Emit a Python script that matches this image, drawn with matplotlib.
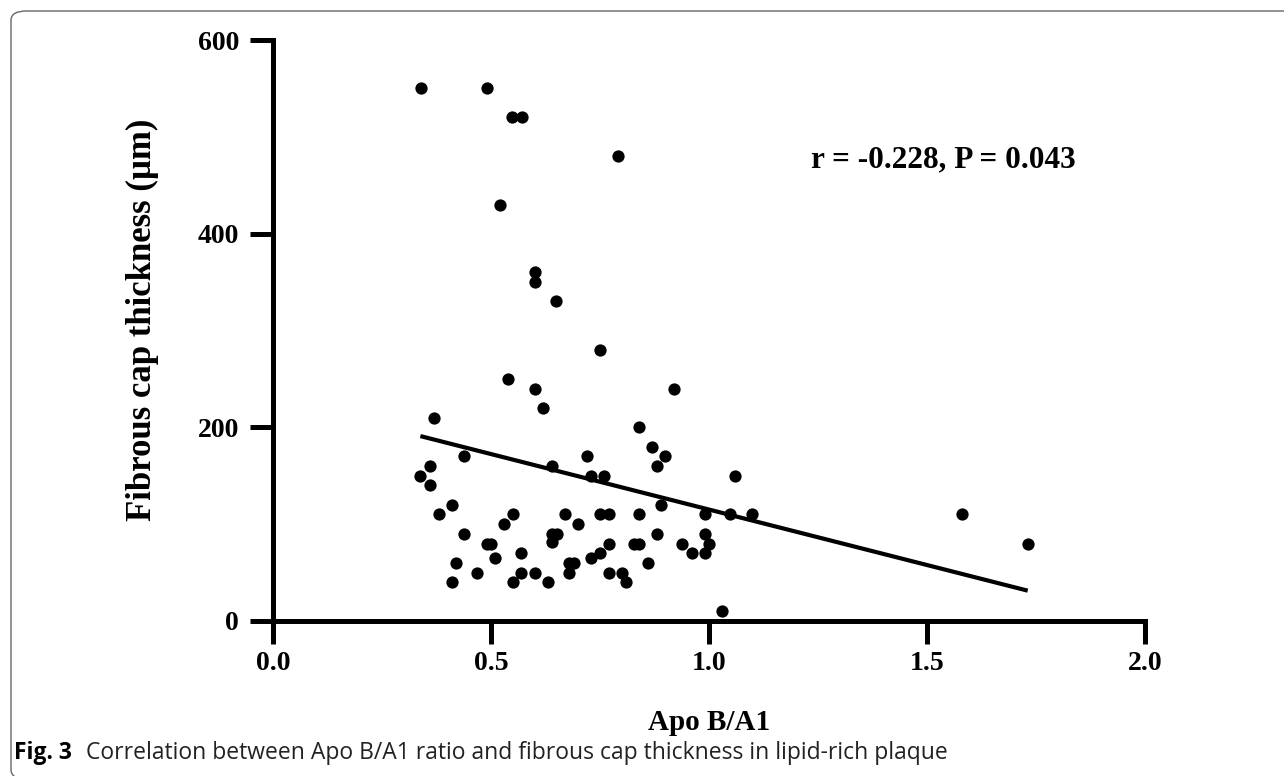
import matplotlib
matplotlib.use("Agg")
import matplotlib.pyplot as plt
import numpy as np
from matplotlib.patches import FancyBboxPatch

# ---- data ----
apo_ratio = [0.340, 0.490, 0.548, 0.570, 0.791, 0.520, 0.600, 0.600, 0.650,
             0.750, 0.540, 0.600, 0.920, 0.620, 0.370, 0.840, 0.870, 0.900,
             0.880, 0.439, 0.720, 0.360, 0.641, 0.338, 0.360, 0.730, 0.760,
             1.059, 0.410, 0.889, 0.380, 0.550, 0.670, 0.750, 0.770, 0.840,
             0.990, 1.049, 1.099, 0.530, 0.700, 0.439, 0.640, 0.651, 0.880,
             0.990, 0.640, 0.490, 0.501, 0.770, 0.829, 0.840, 0.939, 1.000,
             0.569, 0.750, 0.960, 0.990, 0.510, 0.730, 0.680, 0.691, 0.419,
             0.860, 0.469, 0.569, 0.600, 0.680, 0.770, 0.800, 0.410, 0.550,
             0.630, 0.810, 1.030, 1.580, 1.731]
cap_thickness = [550, 550, 520, 520, 480, 430, 360, 350, 330,
                 280, 250, 240, 240, 220, 210, 200, 180, 170,
                 160, 170, 170, 160, 160, 150, 140, 150, 150,
                 150, 120, 120, 110, 110, 110, 110, 110, 110,
                 110, 110, 110, 100, 100, 90, 90, 90, 90,
                 90, 82, 80, 80, 80, 80, 80, 80, 80,
                 70, 70, 70, 70, 65, 65, 60, 60, 60,
                 60, 50, 50, 50, 50, 50, 50, 40, 40,
                 40, 40, 10, 110, 80]
fit_slope = -114.6
fit_intercept = 229.7
stat_text = "r = -0.228, P = 0.043"
x_ticks = [0.0, 0.5, 1.0, 1.5, 2.0]
x_tick_labels = ["0.0", "0.5", "1.0", "1.5", "2.0"]
y_ticks = [0, 200, 400, 600]
y_tick_labels = ["0", "200", "400", "600"]
x_label = "Apo B/A1"
y_label = "Fibrous cap thickness (µm)"
caption_bold = "Fig. 3"
caption_text = "Correlation between Apo B/A1 ratio and fibrous cap thickness in lipid-rich plaque"

W, H = 1284, 776
fig = plt.figure(figsize=(W / 100, H / 100), dpi=100)

serif = ["Liberation Serif", "DejaVu Serif"]
sans = ["Open Sans", "DejaVu Sans"]

# frame around figure (rounded, top/left visible)
box = FancyBboxPatch((11 / W, 1 - 779 / H), 1.2, (779 - 11) / H,
                     boxstyle="round,pad=0,rounding_size=0.012",
                     transform=fig.transFigure, fill=False,
                     edgecolor="#666666", linewidth=1.0)
fig.patches.append(box)

ax = fig.add_axes([273 / W, 1 - 621 / H, (1145 - 273) / W, (621 - 40) / H])
ax.set_xlim(0, 2.0)
ax.set_ylim(0, 600)

ax.scatter(apo_ratio, cap_thickness, s=78, color="black", zorder=3,
           clip_on=False, linewidths=0)

xs = np.array([min(apo_ratio), max(apo_ratio)])
ax.plot(xs, fit_intercept + fit_slope * xs, color="black", lw=3.0,
        solid_capstyle="butt", zorder=2)

for s in ["top", "right"]:
    ax.spines[s].set_visible(False)
for s in ["left", "bottom"]:
    ax.spines[s].set_linewidth(3.6)
    ax.spines[s].set_capstyle("projecting")

ax.set_xticks(x_ticks)
ax.set_xticklabels(x_tick_labels)
ax.set_yticks(y_ticks)
ax.set_yticklabels(y_tick_labels)
ax.tick_params(axis="both", direction="out", length=16.5, width=3.6,
               labelsize=20, color="black")
ax.tick_params(axis="x", pad=5)
ax.tick_params(axis="y", pad=8)
for lab in ax.get_xticklabels() + ax.get_yticklabels():
    lab.set_fontfamily(serif)
    lab.set_fontweight("bold")

ax.set_xlabel(x_label, fontsize=21, fontweight="bold", family=serif, labelpad=24)
ax.set_ylabel(y_label, fontsize=25, fontweight="bold", family=serif)
ax.yaxis.set_label_coords(-0.131, 0.518)

ax.text(1.235, 476, stat_text, fontsize=22.5, fontweight="bold", family=serif,
        ha="left", va="center")

fig.text(14 / W, 1 - 759 / H, caption_bold, fontsize=16.5, fontweight="bold",
         family=sans, ha="left", va="baseline")
fig.text(86 / W, 1 - 759 / H, caption_text, fontsize=16.5,
         family=sans, ha="left", va="baseline", color="#222222")

fig.savefig("out.png", dpi=100)
